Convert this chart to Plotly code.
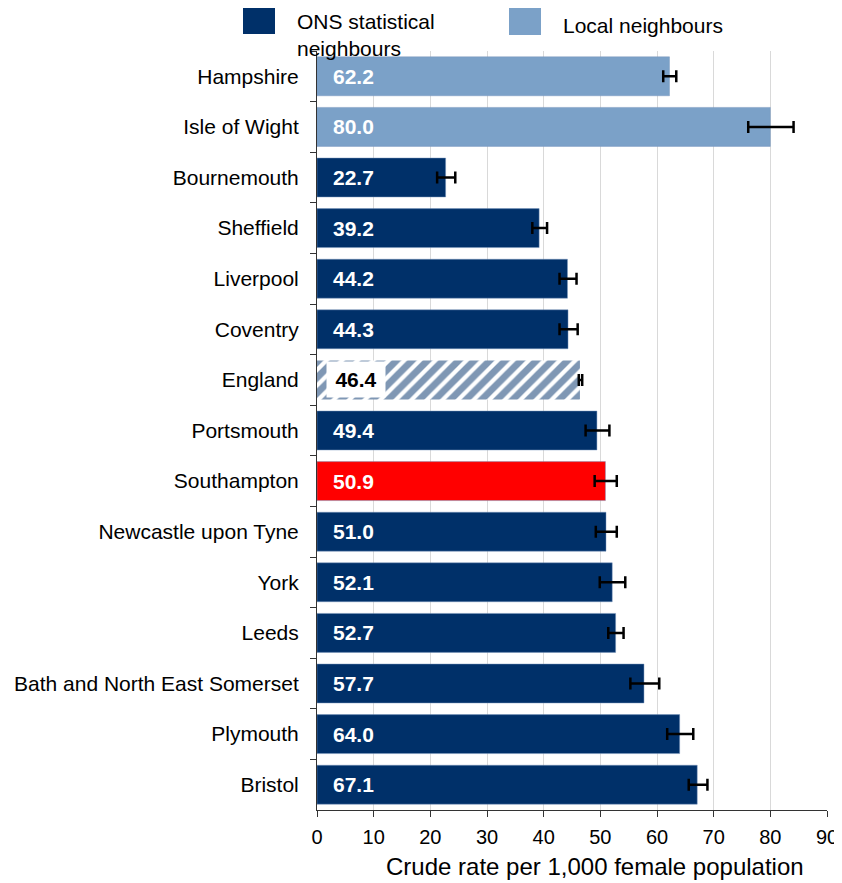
import plotly.graph_objects as go

areas = ["Hampshire", "Isle of Wight", "Bournemouth", "Sheffield", "Liverpool", "Coventry",
         "England", "Portsmouth", "Southampton", "Newcastle upon Tyne", "York", "Leeds",
         "Bath and North East Somerset", "Plymouth", "Bristol"]
rates = [62.2, 80.0, 22.7, 39.2, 44.2, 44.3, 46.4, 49.4, 50.9, 51.0, 52.1, 52.7, 57.7, 64.0, 67.1]
ci_low = [61.1, 76.1, 21.2, 38.0, 42.8, 42.8, 46.2, 47.4, 49.0, 49.2, 49.9, 51.4, 55.3, 61.8, 65.6]
ci_high = [63.4, 84.1, 24.4, 40.6, 45.8, 46.0, 46.8, 51.6, 52.9, 52.9, 54.4, 54.1, 60.4, 66.4, 68.9]
groups = ["local", "local", "ons", "ons", "ons", "ons", "england", "ons", "self",
          "ons", "ons", "ons", "ons", "ons", "ons"]
x_ticks = [0, 10, 20, 30, 40, 50, 60, 70, 80, 90]

NAVY = "#003069"
LIGHT = "#7BA1C8"
RED = "#FF0000"
FONT = "Arial, Liberation Sans, sans-serif"

colmap = {"local": LIGHT, "ons": NAVY, "self": RED, "england": "white"}
colors = [colmap[g] for g in groups]
err_plus = [h - r for h, r in zip(ci_high, rates)]
err_minus = [r - l for r, l in zip(rates, ci_low)]

# page body has an 8px margin; work in page pixels and convert
OFF = 8
W, H = 842 - OFF, 883 - OFF
PL, PR, PT, PB = 317, 827, 51, 810          # plot area in page pixels
L, T = PL - OFF, PT - OFF
pw, ph = PR - PL, PB - PT
R = W - L - pw
B = H - T - ph

def px_x(p):
    return (p - PL) / pw

def px_y(p):
    return (PB - p) / ph

fig = go.Figure()

normal_idx = [i for i, g in enumerate(groups) if g != "england"]
eng_idx = [i for i, g in enumerate(groups) if g == "england"]

fig.add_trace(go.Bar(
    y=[areas[i] for i in normal_idx], x=[rates[i] for i in normal_idx],
    orientation="h",
    marker=dict(color=[colors[i] for i in normal_idx], line=dict(width=0.8, color="rgba(120,150,190,0.6)")),
    error_x=dict(type="data", symmetric=False,
                 array=[err_plus[i] for i in normal_idx],
                 arrayminus=[err_minus[i] for i in normal_idx],
                 color="black", thickness=2.5, width=6),
    showlegend=False, hoverinfo="x+y",
))
fig.add_trace(go.Bar(
    y=[areas[i] for i in eng_idx], x=[rates[i] for i in eng_idx],
    orientation="h",
    marker=dict(color="white", line=dict(width=0),
                pattern=dict(shape="/", fgcolor=NAVY, bgcolor="white", size=11, solidity=0.62)),
    error_x=dict(type="data", symmetric=False,
                 array=[err_plus[i] for i in eng_idx],
                 arrayminus=[err_minus[i] for i in eng_idx],
                 color="black", thickness=2.5, width=6),
    showlegend=False, hoverinfo="x+y",
))

annotations = []
for a, r, g in zip(areas, rates, groups):
    if g == "england":
        annotations.append(dict(
            x=0, y=a, xref="x", yref="y", text=f"<b>{r:.1f}</b>", showarrow=False,
            xanchor="left", xshift=9, width=58, height=35, bgcolor="white", borderpad=0,
            font=dict(family=FONT, size=21, color="black"), align="center"))
    else:
        annotations.append(dict(
            x=0, y=a, xref="x", yref="y", text=f"<b>{r:.1f}</b>", showarrow=False,
            xanchor="left", xshift=14,
            font=dict(family=FONT, size=21, color="white")))

# axis title
annotations.append(dict(x=px_x(595), y=px_y(866), xref="paper", yref="paper",
                        text="Crude rate per 1,000 female population", showarrow=False,
                        xanchor="center", yanchor="middle",
                        font=dict(family=FONT, size=24, color="black")))
# legend
annotations.append(dict(x=px_x(295), y=px_y(8), xref="paper", yref="paper",
                        text="ONS statistical<br>neighbours", showarrow=False,
                        xanchor="left", yanchor="top", align="left",
                        font=dict(family=FONT, size=21, color="black")))
annotations.append(dict(x=px_x(561), y=px_y(25), xref="paper", yref="paper",
                        text="Local neighbours", showarrow=False,
                        xanchor="left", yanchor="middle", align="left",
                        font=dict(family=FONT, size=21, color="black")))

shapes = [
    dict(type="rect", xref="paper", yref="paper", x0=px_x(243), x1=px_x(275),
         y0=px_y(34), y1=px_y(6), fillcolor=NAVY, line=dict(width=0)),
    dict(type="rect", xref="paper", yref="paper", x0=px_x(509), x1=px_x(541),
         y0=px_y(35), y1=px_y(8), fillcolor=LIGHT, line=dict(width=0)),
]

fig.update_layout(
    width=W, height=H,
    margin=dict(l=L, r=R, t=T, b=B, pad=0, autoexpand=False),
    paper_bgcolor="white", plot_bgcolor="white",
    bargap=0.23, barmode="overlay",
    font=dict(family=FONT, size=21, color="black"),
    annotations=annotations, shapes=shapes,
    xaxis=dict(range=[0, 90], tickvals=x_ticks, ticktext=[str(v) for v in x_ticks],
               showgrid=True, gridcolor="#d9d9d9", gridwidth=1,
               showline=True, linecolor="#333333", linewidth=1,
               ticks="outside", ticklen=6, tickcolor="#333333",
               tickfont=dict(family=FONT, size=20, color="black"),
               ticklabelstandoff=3, automargin=False,
               zeroline=False, fixedrange=True),
    yaxis=dict(categoryorder="array", categoryarray=areas, autorange="reversed",
               showline=True, linecolor="#333333", linewidth=1,
               ticks="outside", ticklen=6, tickcolor="#333333", tickson="boundaries",
               tickfont=dict(family=FONT, size=21, color="black"),
               ticklabelstandoff=13, automargin=False,
               showgrid=False, fixedrange=True),
)

fig.write_html("out.html")
